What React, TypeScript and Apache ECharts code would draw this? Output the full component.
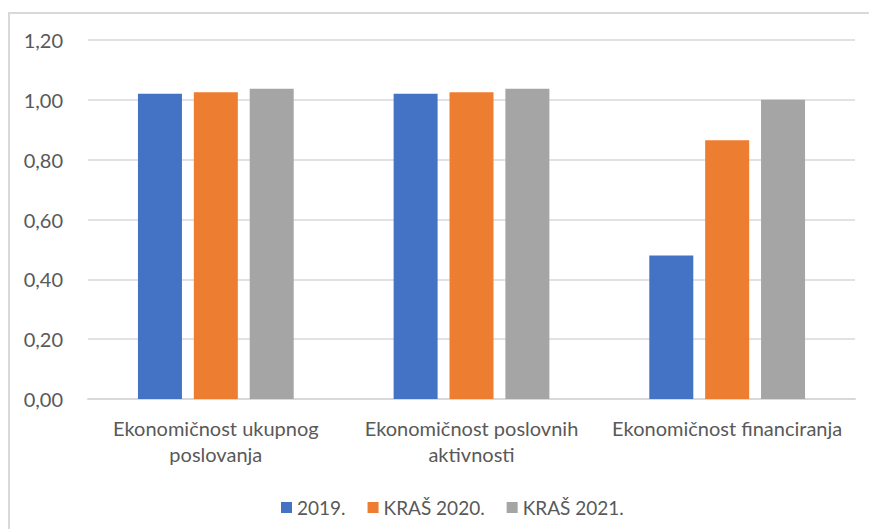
import React, { useEffect, useRef } from "react";
import * as echarts from "echarts";

const categories = [
  "Ekonomičnost ukupnog\nposlovanja",
  "Ekonomičnost poslovnih\naktivnosti",
  "Ekonomičnost financiranja",
];
const seriesNames = ["2019.", "KRAŠ 2020.", "KRAŠ 2021."];
const values2019 = [1.02, 1.02, 0.48];
const values2020 = [1.025, 1.025, 0.865];
const values2021 = [1.037, 1.037, 1.0];
const colors = ["#4472C4", "#ED7D31", "#A5A5A5"];

const FONT = "Lato";
const TEXT = "#595959";

export default function App() {
  const ref = useRef<HTMLDivElement>(null);
  useEffect(() => {
    if (!ref.current) return;
    const chart = echarts.init(ref.current, null, { renderer: "svg" });
    const data = [values2019, values2020, values2021];
    chart.setOption({
      animation: false,
      backgroundColor: "#ffffff",
      textStyle: { fontFamily: FONT, color: TEXT },
      graphic: [
        {
          type: "rect",
          shape: { x: 9, y: 13, width: 900, height: 600 },
          style: { fill: "none", stroke: "#d9d9d9", lineWidth: 2 },
          silent: true,
          z: -1,
        },
      ],
      grid: { left: 88, right: 14, top: 40, bottom: 130, containLabel: false },
      legend: {
        left: 276,
        top: 493,
        itemWidth: 11,
        itemHeight: 11,
        itemGap: 22,
        icon: "rect",
        textStyle: { fontFamily: FONT, fontSize: 19, color: TEXT },
        data: seriesNames,
      },
      xAxis: {
        type: "category",
        data: categories,
        axisLine: { show: true, lineStyle: { color: "#d9d9d9", width: 2 } },
        axisTick: { show: false },
        axisLabel: {
          fontFamily: FONT,
          fontSize: 20,
          color: TEXT,
          lineHeight: 26,
          margin: 16,
          interval: 0,
        },
      },
      yAxis: {
        type: "value",
        min: 0,
        max: 1.2,
        interval: 0.2,
        axisLine: { show: false },
        axisTick: { show: false },
        splitLine: { lineStyle: { color: "#d9d9d9", width: 1.5 } },
        axisLabel: {
          fontFamily: FONT,
          fontSize: 20,
          color: TEXT,
          margin: 25,
          formatter: (v: number) => v.toFixed(2).replace(".", ","),
        },
      },
      series: seriesNames.map((name, i) => ({
        name,
        type: "bar",
        data: data[i],
        barWidth: 44,
        barGap: "27%",
        itemStyle: { color: colors[i] },
      })),
    });
    return () => chart.dispose();
  }, []);
  return (
    <div
      ref={ref}
      style={{ position: "fixed", left: 0, top: 0, width: 869, height: 529 }}
    />
  );
}
